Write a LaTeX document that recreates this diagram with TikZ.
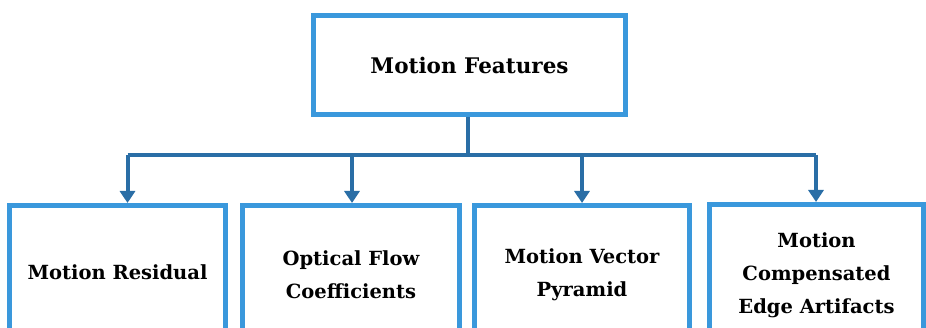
\documentclass[tikz,border=0pt]{standalone}
\usepackage{fontspec}
\setmainfont{DejaVu Serif}
\usetikzlibrary{arrows.meta}
\definecolor{boxblue}{HTML}{3A98DC}
\definecolor{linkblue}{HTML}{2A6EA6}
\begin{document}
\begin{tikzpicture}[x=1pt,y=-1pt,
  box/.style={draw=boxblue, line width=5pt, fill=white, align=center,
    font=\bfseries\fontsize{19.5}{33}\selectfont, inner sep=0pt},
  link/.style={draw=linkblue, line width=4pt},
  linkarrow/.style={link, -{Triangle[length=12pt,width=15pt]}}
]
\useasboundingbox (0,0) rectangle (926,328);
\begin{scope}
\clip (0,0) rectangle (926,328);
% root
\node[box, font=\bfseries\fontsize{21.5}{33}\selectfont,
  minimum width=312pt, minimum height=99pt] (root) at (469.5,65) {Motion Features};
% children (they run past the lower edge)
\node[box, minimum width=216pt, minimum height=133pt] (c1) at (117.5,272) {Motion Residual};
\node[box, minimum width=217pt, minimum height=139pt] (c2) at (351,275) {Optical Flow\\Coefficients};
\node[box, minimum width=215pt, minimum height=139pt] (c3) at (582,275) {Motion Vector\\Pyramid};
\node[box, minimum width=214pt, minimum height=141pt] (c4) at (816.5,275) {Motion\\Compensated\\Edge Artifacts};
% tree connectors
\coordinate (bus) at (468,155);
\draw[link] (root.south -| bus) -- (bus);
\draw[link] (127.5,155) -- (816,155);
\coordinate (t1) at (127.5,155);
\coordinate (t2) at (352,155);
\coordinate (t3) at (582,155);
\coordinate (t4) at (816,155);
\draw[linkarrow] (t1) -- (t1 |- c1.north);
\draw[linkarrow] (t2) -- (t2 |- c2.north);
\draw[linkarrow] (t3) -- (t3 |- c3.north);
\draw[linkarrow] (t4) -- (t4 |- c4.north);
\end{scope}
\end{tikzpicture}
\end{document}
